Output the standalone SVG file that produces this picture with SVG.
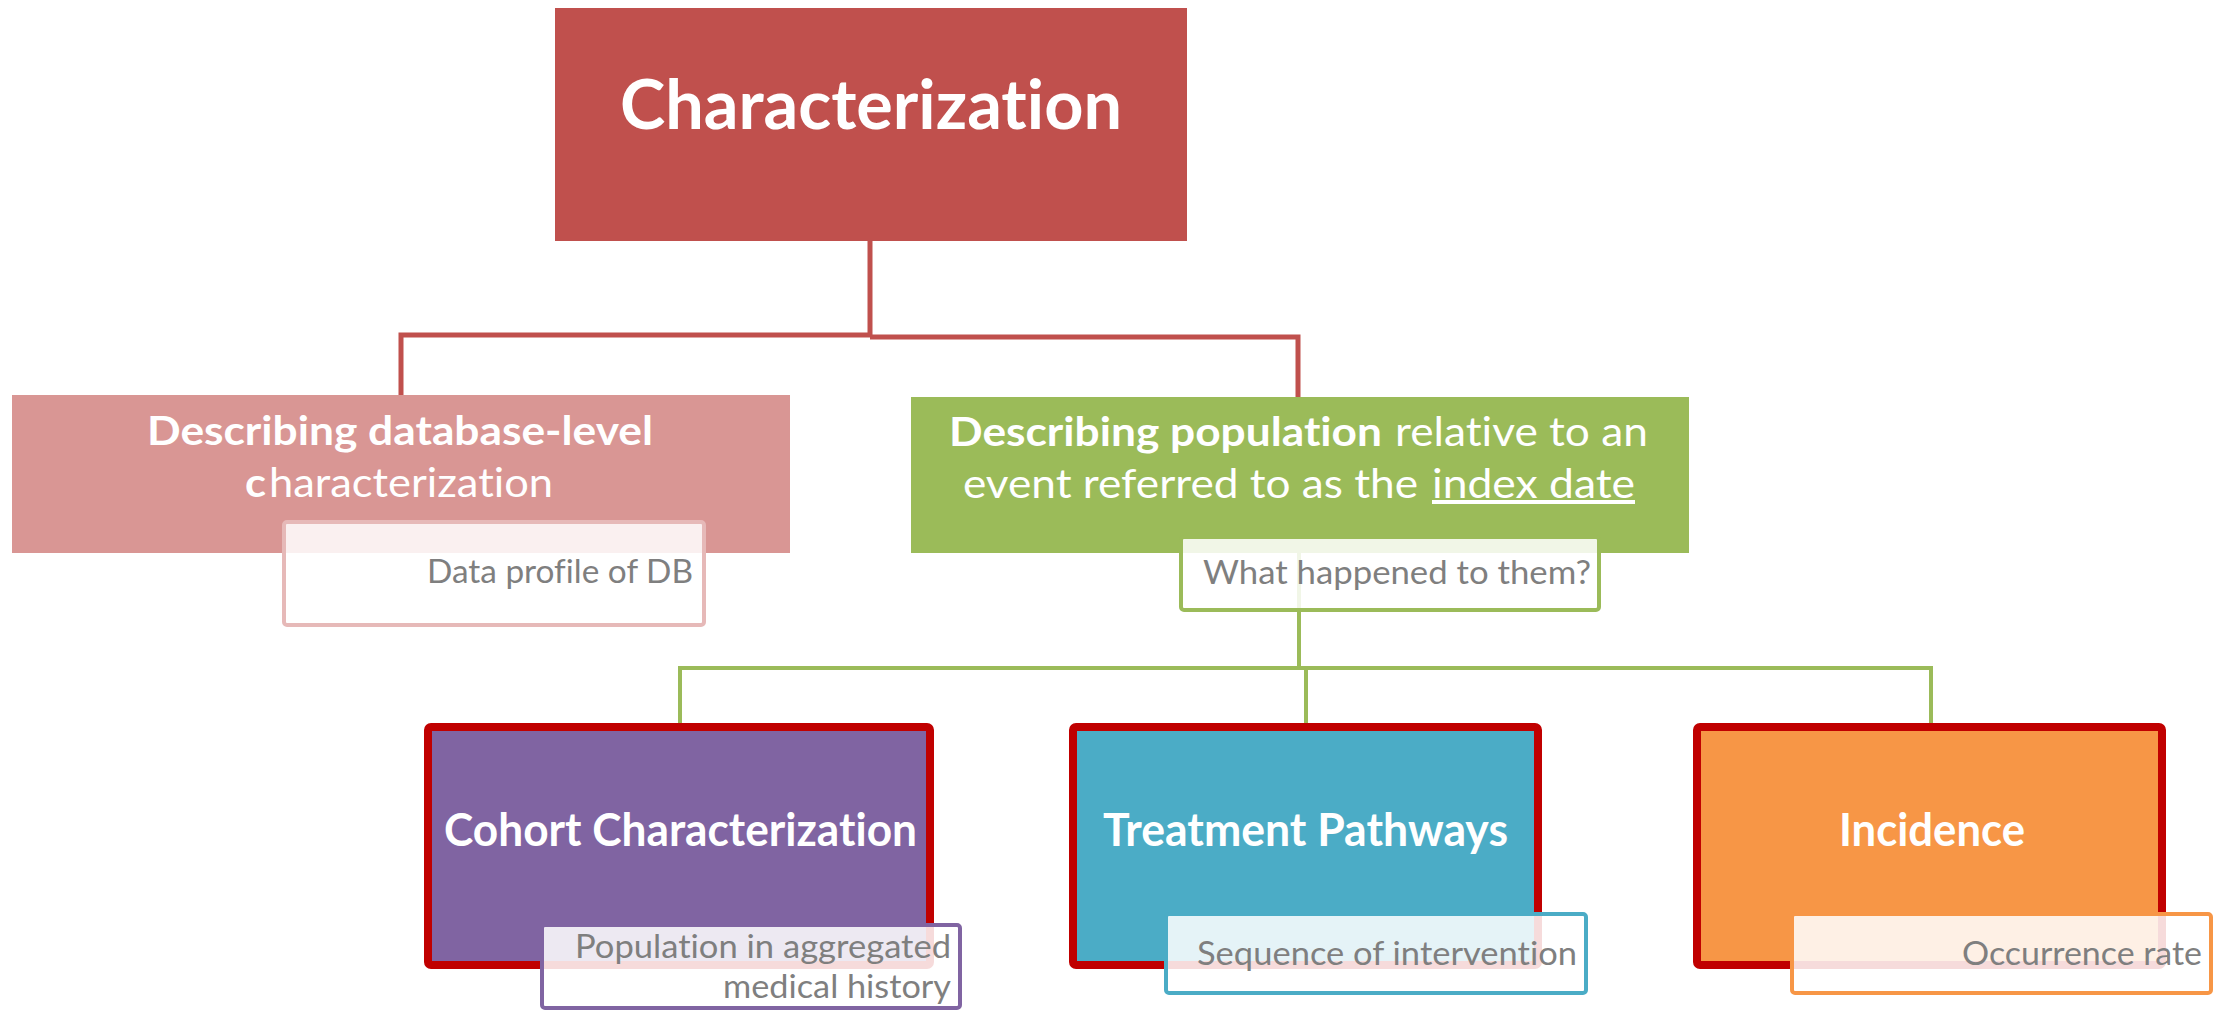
<svg xmlns="http://www.w3.org/2000/svg" width="2225" height="1012" viewBox="0 0 2225 1012">
<style>
text{font-variant-ligatures:none}
.t{font-family:Lato,"Open Sans","Liberation Sans",sans-serif;fill:#fff}
.b{font-weight:bold}
.s{font-family:Lato,"Open Sans","Liberation Sans",sans-serif;fill:#7f7f7f;font-size:32px}
.redc{fill:none;stroke:#C0504D;stroke-width:5}
.grnc{fill:none;stroke:#9BBB59;stroke-width:4}
.child{stroke:#C00000;stroke-width:8}
.sub{fill:#fff;fill-opacity:0.86;stroke-width:4}
</style>
<rect width="2225" height="1012" fill="#fff"/>
<g id="connectors">
<polyline class="redc" points="870,241 870,335 401,335 401,396"/>
<polyline class="redc" points="870,337 1298,337 1298,397"/>
<polyline class="grnc" points="1299,553 1299,668"/>
<polyline class="grnc" points="680,723 680,668 1931,668 1931,723"/>
<polyline class="grnc" points="1306,668 1306,723"/>
</g>
<g id="characterization">
<rect x="555" y="8" width="632" height="233" fill="#C0504D"/>
<text class="t b" x="620" y="129" font-size="68" textLength="502" lengthAdjust="spacingAndGlyphs">Characterization</text>
</g>
<g id="database-level">
<rect x="12" y="395" width="778" height="158" fill="#D99694"/>
<text class="t" font-size="40" y="445"><tspan class="b" x="147" textLength="506" lengthAdjust="spacingAndGlyphs">Describing database-level</tspan></text>
<text class="t" font-size="40" y="497"><tspan class="b" x="245" textLength="21" lengthAdjust="spacingAndGlyphs">c</tspan><tspan x="269" textLength="284" lengthAdjust="spacingAndGlyphs">haracterization</tspan></text>
</g>
<g id="data-profile">
<rect class="sub" x="284" y="522" width="420" height="103" rx="3" stroke="#E6B9B8"/>
<text class="s" x="427" y="583" textLength="266" lengthAdjust="spacingAndGlyphs">Data profile of DB</text>
</g>
<g id="population">
<rect x="911" y="397" width="778" height="156" fill="#9BBB59"/>
<text class="t" font-size="40" y="446"><tspan class="b" x="949" textLength="433" lengthAdjust="spacingAndGlyphs">Describing population</tspan><tspan x="1395" textLength="253" lengthAdjust="spacingAndGlyphs">relative to an</tspan></text>
<text class="t" font-size="40" y="498"><tspan x="963" textLength="455" lengthAdjust="spacingAndGlyphs">event referred to as the</tspan><tspan x="1432" textLength="203" lengthAdjust="spacingAndGlyphs" text-decoration="underline">index date</tspan></text>
</g>
<g id="what-happened">
<rect class="sub" x="1181" y="537" width="418" height="73" rx="3" stroke="#9BBB59"/>
<text class="s" x="1203" y="584" textLength="388" lengthAdjust="spacingAndGlyphs">What happened to them?</text>
</g>
<g id="cohort">
<rect class="child" x="428" y="727" width="502" height="238" rx="3" fill="#8064A2"/>
<text class="t b" x="444" y="846" font-size="45" textLength="473" lengthAdjust="spacingAndGlyphs">Cohort Characterization</text>
</g>
<g id="cohort-sub">
<rect class="sub" x="542" y="925" width="418" height="83" rx="3" stroke="#8064A2"/>
<text class="s" x="575" y="958" textLength="376" lengthAdjust="spacingAndGlyphs">Population in aggregated</text>
<text class="s" x="723" y="998" textLength="228" lengthAdjust="spacingAndGlyphs">medical history</text>
</g>
<g id="treatment">
<rect class="child" x="1073" y="727" width="465" height="238" rx="3" fill="#4BACC6"/>
<text class="t b" x="1103" y="846" font-size="45" textLength="405" lengthAdjust="spacingAndGlyphs">Treatment Pathways</text>
</g>
<g id="treatment-sub">
<rect class="sub" x="1166" y="914" width="420" height="79" rx="3" stroke="#4BACC6"/>
<text class="s" x="1197" y="965" textLength="380" lengthAdjust="spacingAndGlyphs">Sequence of intervention</text>
</g>
<g id="incidence">
<rect class="child" x="1697" y="727" width="465" height="238" rx="3" fill="#F79646"/>
<text class="t b" x="1839" y="846" font-size="45" textLength="186" lengthAdjust="spacingAndGlyphs">Incidence</text>
</g>
<g id="incidence-sub">
<rect class="sub" x="1792" y="914" width="419" height="79" rx="3" stroke="#F79646"/>
<text class="s" x="1962" y="965" textLength="240" lengthAdjust="spacingAndGlyphs">Occurrence rate</text>
</g>
</svg>
